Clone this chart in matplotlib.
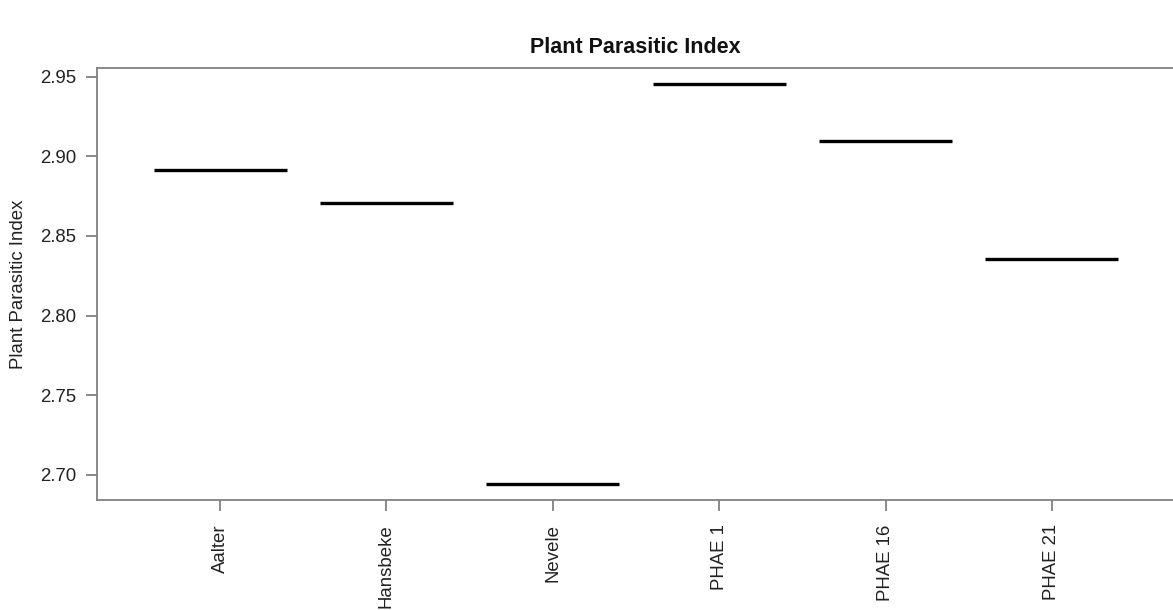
import matplotlib
matplotlib.use("Agg")
from matplotlib import pyplot as plt

plt.rcParams['font.family'] = ['Liberation Sans', 'DejaVu Sans']

sites = ['Aalter', 'Hansbeke', 'Nevele', 'PHAE 1', 'PHAE 16', 'PHAE 21']
ppi = [2.8916, 2.8709, 2.6943, 2.9456, 2.9098, 2.8358]
yticks = [2.70, 2.75, 2.80, 2.85, 2.90, 2.95]

fig = plt.figure(figsize=(11.73, 6.10), dpi=100)
ax = fig.add_axes([0.0827, 0.1803, 0.919, 0.709])

pos = list(range(1, len(sites) + 1))
half = 0.4  # boxes are 0.8 wide
ax.hlines(ppi, [p - half for p in pos], [p + half for p in pos],
          colors='black', linewidth=2.4, capstyle='butt')

# axis ranges padded by 4% like R
lo, hi = min(ppi), max(ppi)
pad = (hi - lo) * 0.04
ax.set_ylim(lo - pad, hi + pad)
ax.set_xlim(0.5 - 6 * 0.04, 6.5 + 6 * 0.04)

ax.set_xticks(pos)
ax.set_xticklabels(sites, rotation=90, va='top', ha='center')
ax.set_yticks(yticks)
ax.set_yticklabels(['%.2f' % v for v in yticks])

for s in ax.spines.values():
    s.set_color('#808080')
    s.set_linewidth(1.3)
ax.tick_params(axis='both', colors='#808080', width=1.3, length=8,
               labelcolor='#222222', labelsize=13.4)
ax.tick_params(axis='x', pad=9.5)
ax.tick_params(axis='y', pad=7)

ax.set_ylabel('Plant Parasitic Index', fontsize=13.4, color='#222222', labelpad=9)
fig.text(0.5415, 0.922, 'Plant Parasitic Index', ha='center', va='center',
         fontsize=15.5, fontweight='bold', color='#111111')

fig.savefig('out.png', dpi=100)
